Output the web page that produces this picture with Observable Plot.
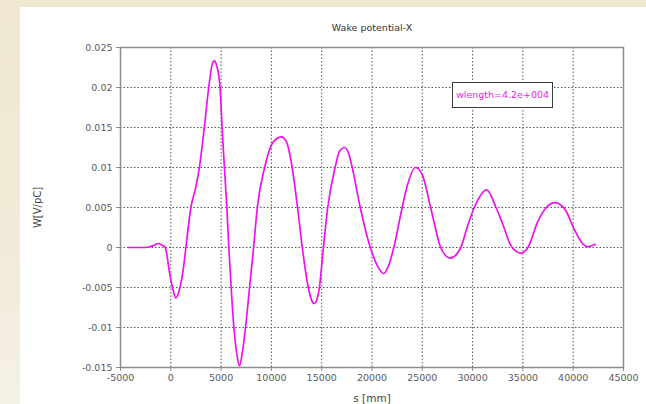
<!DOCTYPE html>
<html>
<head>
<meta charset="utf-8">
<script src="https://cdn.jsdelivr.net/npm/d3@7"></script>
<script src="https://cdn.jsdelivr.net/npm/@observablehq/plot@0.6"></script>
<style>
  html, body { margin: 0; padding: 0; }
  body { width: 646px; height: 404px; position: relative; overflow: hidden;
         background: linear-gradient(180deg, #efe7d0 0%, #f1ead8 60%, #f5f1e6 100%); }
  #panel { position: absolute; left: 20px; top: 7px; width: 626px; height: 397px; background: #ffffff; }
  #chart { position: absolute; left: 0; top: 0; }
  #legend { position: absolute; left: 452px; top: 82px; width: 101px; height: 26px; box-sizing: border-box;
            border: 1.5px solid #3a3a3a; background: #fff; color: #e61ee6;
            font: 9.5px "DejaVu Sans", sans-serif; line-height: 23px; padding-left: 3px; white-space: nowrap; }
</style>
</head>
<body>
<div id="panel"></div>
<div id="chart"></div>
<div id="legend">wlength=4.2e+004</div>
<script>
const title = "Wake potential-X";
const xLabel = "s [mm]";
const yLabel = "W[V/pC]";
const xTicks = [-5000, 0, 5000, 10000, 15000, 20000, 25000, 30000, 35000, 40000, 45000];
const yTicks = [-0.015, -0.01, -0.005, 0, 0.005, 0.01, 0.015, 0.02, 0.025];

const sMM = [-4200, -3500, -2800, -2300, -1800, -1230, -900, -600, -400, -170, 170, 500, 830, 1230, 1500,
  2000, 2500, 2830, 3330, 3770, 4100, 4330, 4550, 4770, 4900, 5100, 5330, 5570, 5770, 6000, 6270, 6550,
  6830, 7100, 7430, 7830, 8230, 8600, 9330, 10000, 10500, 11000, 11500, 12000, 12600, 13070, 13670,
  14000, 14270, 14500, 14770, 15170, 15600, 16330, 16800, 17270, 17700, 18000, 18830, 19830, 20500,
  21170, 21700, 22170, 23000, 23500, 24330, 25000, 25830, 26830, 27300, 27770, 28830, 29500, 30170,
  31400, 32330, 33000, 33830, 34830, 35500, 36500, 37330, 38170, 39170, 40170, 41000, 41500, 42200];
const wake = [0, 0, 0, 0.00003, 0.0002, 0.0005, 0.0003, 0.0001, -0.0008, -0.0028, -0.005, -0.0063, -0.0054, -0.0028, 0,
  0.005, 0.0076, 0.0099, 0.015, 0.020, 0.0228, 0.02334, 0.0228, 0.0215, 0.020, 0.015, 0.010, 0.005, 0, -0.005, -0.010, -0.0132,
  -0.0148, -0.0132, -0.010, -0.005, 0, 0.005, 0.010, 0.0128, 0.0136, 0.01384, 0.0132, 0.0105, 0.005, 0, -0.005,
  -0.0066, -0.0070, -0.0066, -0.005, 0, 0.005, 0.010, 0.0121, 0.0125, 0.0117, 0.0102, 0.005, 0, -0.0022,
  -0.00325, -0.0021, 0, 0.005, 0.0077, 0.010, 0.0091, 0.005, 0, -0.001, -0.00133, 0, 0.0027, 0.005,
  0.0072, 0.005, 0.0029, 0.0002, -0.0007, 0, 0.0033, 0.005, 0.0056, 0.0048, 0.0021, 0.0004, 0.0001, 0.0004];

const data = sMM.map((s, i) => ({s, w: wake[i]}));
const fmtY = d => String(+d.toFixed(3));

const chart = Plot.plot({
  width: 646, height: 404,
  marginLeft: 120, marginRight: 23, marginTop: 47, marginBottom: 37,
  style: {background: "transparent", fontFamily: "'DejaVu Sans', sans-serif", fontSize: "9.5px", color: "#5a5a5a"},
  x: {domain: [-5000, 45000]},
  y: {domain: [-0.015, 0.025]},
  marks: [
    Plot.gridX(xTicks, {stroke: "#555", strokeOpacity: 1, strokeDasharray: "1.5,2"}),
    Plot.gridY(yTicks, {stroke: "#555", strokeOpacity: 1, strokeDasharray: "1.5,2"}),
    Plot.line(data, {x: "s", y: "w", stroke: "#ee11ee", strokeWidth: 1.7, curve: "monotone-x"}),
    Plot.frame({stroke: "#8c8c8c", strokeWidth: 1.5}),
    Plot.axisX(xTicks, {tickSize: 4, tickPadding: 3, tickFormat: d => String(d), label: null, stroke: "#8c8c8c", fill: "#5a5a5a"}),
    Plot.axisY(yTicks, {tickSize: 4, tickPadding: 4, tickFormat: fmtY, label: null, stroke: "#8c8c8c", fill: "#5a5a5a"}),
    Plot.text([title], {frameAnchor: "top", dy: -20, lineAnchor: "middle", textAnchor: "middle", fill: "#333", fontSize: 9.5}),
    Plot.text([xLabel], {frameAnchor: "bottom", dy: 31, lineAnchor: "middle", textAnchor: "middle", fill: "#444", fontSize: 10.5}),
    Plot.text([yLabel], {frameAnchor: "left", dx: -83, rotate: -90, lineAnchor: "middle", textAnchor: "middle", fill: "#444", fontSize: 10})
  ]
});
document.getElementById("chart").appendChild(chart);
</script>
</body>
</html>
